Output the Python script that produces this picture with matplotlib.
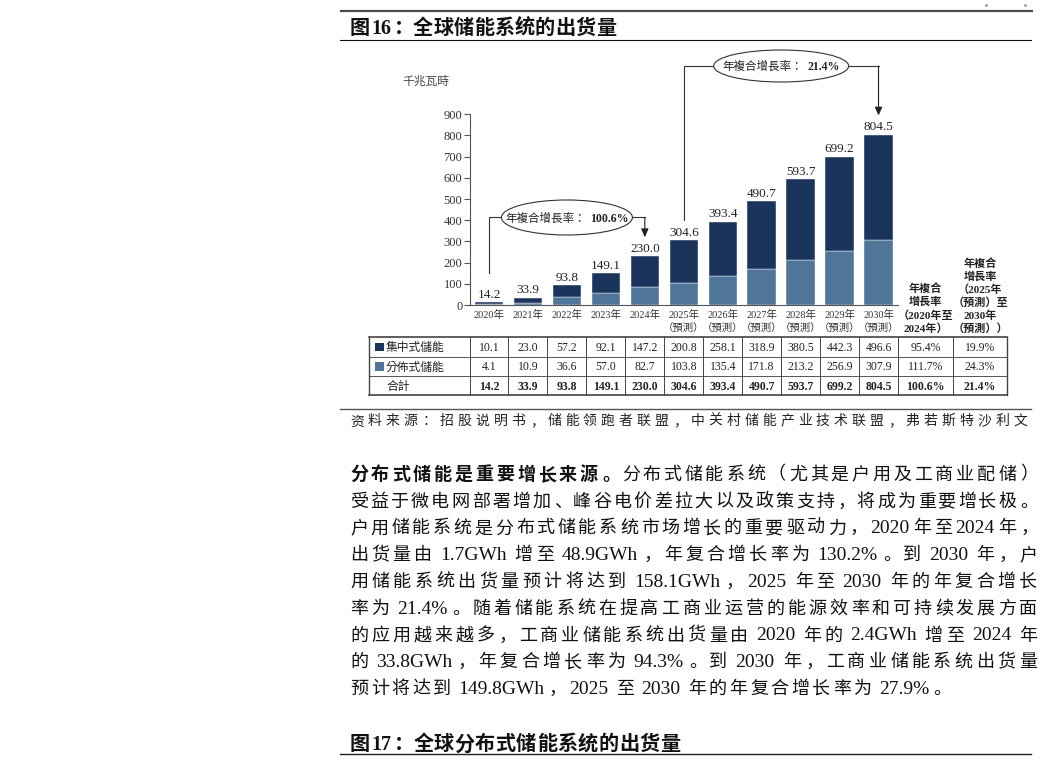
import re
import matplotlib
matplotlib.use('Agg')
import matplotlib.pyplot as plt
from matplotlib.patches import Ellipse, Rectangle

# ---------------- data ----------------
years = ['2020年', '2021年', '2022年', '2023年', '2024年', '2025年',
         '2026年', '2027年', '2028年', '2029年', '2030年']
is_forecast = [False, False, False, False, False, True, True, True, True, True, True]
forecast_tag = '（預測）'
centralized = [10.1, 23.0, 57.2, 92.1, 147.2, 200.8, 258.1, 318.9, 380.5, 442.3, 496.6]
distributed = [4.1, 10.9, 36.6, 57.0, 82.7, 103.8, 135.4, 171.8, 213.2, 256.9, 307.9]
totals = [14.2, 33.9, 93.8, 149.1, 230.0, 304.6, 393.4, 490.7, 593.7, 699.2, 804.5]
row_names = ['集中式儲能', '分佈式儲能', '合計']
cagr_hist = ['95.4%', '111.7%', '100.6%']
cagr_fcst = ['19.9%', '24.3%', '21.4%']
cagr_hist_header = ['年複合', '增長率', '（2020年至', '2024年）']
cagr_fcst_header = ['年複合', '增長率', '（2025年', '（預測）至', '2030年', '（預測））']
ann_label = '年複合增長率：'
ann_hist = (0, 4, '100.6%')
ann_fcst = (5, 10, '21.4%')
y_ticks = [0, 100, 200, 300, 400, 500, 600, 700, 800, 900]
unit_label = '千兆瓦時'
fig_title = '图16：全球储能系统的出货量'
source_text = '资料来源：招股说明书，储能领跑者联盟，中关村储能产业技术联盟，弗若斯特沙利文'
para_lines = [
    [('分布式储能是重要增长来源。', 'bold'), ('分布式储能系统（尤其是户用及工商业配储）', 'normal')],
    [('受益于微电网部署增加、峰谷电价差拉大以及政策支持，将成为重要增长极。', 'normal')],
    [('户用储能系统是分布式储能系统市场增长的重要驱动力，2020年至2024年，', 'normal')],
    [('出货量由 1.7GWh 增至 48.9GWh，年复合增长率为 130.2%。到 2030 年，户', 'normal')],
    [('用储能系统出货量预计将达到 158.1GWh，2025 年至 2030 年的年复合增长', 'normal')],
    [('率为 21.4%。随着储能系统在提高工商业运营的能源效率和可持续发展方面', 'normal')],
    [('的应用越来越多，工商业储能系统出货量由 2020 年的 2.4GWh 增至 2024 年', 'normal')],
    [('的 33.8GWh，年复合增长率为 94.3%。到 2030 年，工商业储能系统出货量', 'normal')],
    [('预计将达到 149.8GWh，2025 至 2030 年的年复合增长率为 27.9%。', 'normal')],
]
next_title = '图17：全球分布式储能系统的出货量'

# ---------------- style ----------------
DARK = '#1b345c'
LIGHT = '#4f7599'
SERIF_SC = ['Liberation Serif', 'Noto Sans CJK SC']
SERIF_TC = ['Liberation Serif', 'Noto Sans CJK TC']
SERIF = ['Liberation Serif']
TC = ['Noto Sans CJK TC']

W, H = 1041, 768
fig = plt.figure(figsize=(W / 100, H / 100), dpi=100)
fig.patch.set_facecolor('white')
page = fig.add_axes([0, 0, 1, 1])
page.set_xlim(0, W)
page.set_ylim(H, 0)
page.axis('off')
renderer = fig.canvas.get_renderer()


def measure(s, **kw):
    t = page.text(0, 0, s, **kw)
    w = t.get_window_extent(renderer).width
    t.remove()
    return w


LEFT_P = set('，。、：；）！？')
RIGHT_P = set('（')


def is_cjk(ch):
    return ord(ch) >= 0x2E80


def layout_line(segments, x0, baseline, size, family, color,
                target=None, extra=0.0, latin_size=None, space=0.22):
    """Place one line token by token (CJK chars / latin words), justified."""
    em = size * 100 / 72
    lsize = latin_size if latin_size else size
    toks = []   # [text, weight, space_after]
    for text, weight in segments:
        for m in re.finditer(r'( +)|([\x21-\x7e]+)|(.)', text):
            if m.group(1):
                if toks:
                    toks[-1][2] = True
            else:
                toks.append([m.group(0), weight, False])
    advs = []
    for tok, weight, sp in toks:
        if len(tok) == 1 and is_cjk(tok):
            a = em
        else:
            a = measure(tok, fontsize=lsize, fontweight=weight, family=family) + 0.1 * em
        if sp:
            a += space * em
        advs.append(a)
    n = len(toks)
    if target is not None and n > 1:
        extra = (target - sum(advs)) / (n - 1)
    xx = x0
    for (tok, weight, sp), adv in zip(toks, advs):
        if len(tok) == 1 and is_cjk(tok):
            fs = size
            if tok in LEFT_P:
                ha, tx = 'left', xx + 0.06 * em
            elif tok in RIGHT_P:
                ha, tx = 'right', xx + 0.94 * em
            else:
                ha, tx = 'center', xx + em / 2
        else:
            fs = lsize
            ha, tx = 'left', xx + 0.05 * em
        page.text(tx, baseline, tok, ha=ha, va='baseline', fontsize=fs,
                  fontweight=weight, family=family, color=color)
        xx += adv + extra
    return extra


# ---------------- page furniture ----------------
page.plot([340, 1033], [11, 11], color='#4a4a4a', lw=1.6, solid_capstyle='butt')
page.plot([986, 1025], [5, 5], ls='none', marker='s', ms=0.8, color='#6d8fc0')
layout_line([(fig_title, 'bold')], 350, 33.5, 14.5, SERIF_SC, '#111', extra=0.2)
page.plot([340, 1031], [39.5, 39.5], color='#111', lw=0.8)
page.text(402, 84.5, unit_label, ha='left', va='baseline', fontsize=8.5,
          family=TC, color='#444')

# ---------------- chart ----------------
AX_L, AX_R, AX_B, AX_T = 470, 898, 305, 114.3
ax = fig.add_axes([AX_L / W, 1 - AX_B / H, (AX_R - AX_L) / W, (AX_B - AX_T) / H])
ax.patch.set_alpha(0)
xs = list(range(len(years)))
ax.set_xlim(-0.488, 10.5)
ax.set_ylim(0, 900)
ax.bar(xs, distributed, width=0.73, color=LIGHT, edgecolor='white', linewidth=0.3, zorder=2)
ax.bar(xs, centralized, width=0.73, bottom=distributed, color=DARK,
       edgecolor='white', linewidth=0.3, zorder=2)
for i, t in enumerate(totals):
    ax.annotate(f'{t:.1f}', (i, t), xytext=(0, 3.2), textcoords='offset points',
                ha='center', va='baseline', fontsize=9.5, family=SERIF, color='#222')
for s in ['top', 'right']:
    ax.spines[s].set_visible(False)
for s in ['left', 'bottom']:
    ax.spines[s].set_color('#555')
    ax.spines[s].set_linewidth(0.8)
ax.set_yticks(y_ticks, [str(v) for v in y_ticks], fontfamily=SERIF,
              fontsize=9, color='#333')
ax.tick_params(axis='y', direction='out', length=4.3, width=0.8, color='#555', pad=1.2)
xt_labels = [y + ('\n' + forecast_tag if f else '') for y, f in zip(years, is_forecast)]
ax.set_xticks(xs, xt_labels, fontfamily=SERIF_TC, fontsize=7.5, color='#333',
              linespacing=1.4)
ax.tick_params(axis='x', length=0, pad=3.3)


def to_page(xd, yd):
    dx, dy = ax.transData.transform((xd, yd))
    return dx, H - dy


# CAGR headers
col_edges = [to_page(i - 0.5, 0)[0] for i in xs] + [to_page(xs[-1] + 0.5, 0)[0]]
c_hist = (col_edges[-1], 953)
c_fcst = (953, 1007)
for k, line in enumerate(cagr_hist_header):
    page.text(sum(c_hist) / 2, 287.7 + 13.3 * k + 4.2, line, ha='center', va='baseline',
              fontsize=8, fontweight='bold', family=SERIF_TC, color='#222')
for k, line in enumerate(cagr_fcst_header):
    page.text(sum(c_fcst) / 2, 262.7 + 13.0 * k + 4.2, line, ha='center', va='baseline',
              fontsize=8, fontweight='bold', family=SERIF_TC, color='#222')


# annotation brackets
def bracket(ann, level, start_gap, ell_w, ell_h):
    i0, i1, val = ann
    x0, top0 = to_page(i0, totals[i0])
    x1, top1 = to_page(i1, totals[i1])
    _, ly = to_page(0, level)
    cx = (x0 + x1) / 2
    page.plot([x0, x0, cx - ell_w / 2], [top0 - start_gap, ly, ly], color='#333', lw=0.8)
    page.plot([cx + ell_w / 2, x1], [ly, ly], color='#333', lw=0.8)
    page.annotate('', xy=(x1, top1 - 19), xytext=(x1, ly),
                  arrowprops=dict(arrowstyle='-|>,head_length=0.5,head_width=0.22',
                                  color='#222', lw=0.8, shrinkA=0, shrinkB=0))
    page.add_patch(Ellipse((cx, ly), ell_w, ell_h, facecolor='white',
                           edgecolor='#333', lw=0.8, zorder=3))
    kw1 = dict(fontsize=8.3, family=TC, color='#222')
    kw2 = dict(fontsize=8.5, fontweight='bold', family=SERIF, color='#222')
    w1 = measure(ann_label, **kw1)
    w2 = measure(val, **kw2)
    gap = 4
    left = cx - (w1 + gap + w2) / 2
    base = ly + 4.2
    page.text(left, base, ann_label, ha='left', va='baseline', zorder=4, **kw1)
    page.text(left + w1 + gap, base, val, ha='left', va='baseline', zorder=4, **kw2)


bracket(ann_hist, 413, 29, 131, 35)
bracket(ann_fcst, 1128, 20.5, 135, 32)

# ---------------- table ----------------
T_L, T_R = 369, 1007
row_y = [337, 357, 376, 395]
edges = [T_L] + col_edges + [953, T_R]
page.plot([T_L, T_R], [row_y[0], row_y[0]], color='#333', lw=1.1)
page.plot([T_L, T_R], [row_y[-1], row_y[-1]], color='#333', lw=1.1)
for yv in row_y[1:-1]:
    page.plot([T_L, T_R], [yv, yv], color='#555', lw=0.7)
for k, ex in enumerate(edges):
    lw = 1.0 if k in (0, len(edges) - 1) else 0.7
    page.plot([ex, ex], [row_y[0], row_y[-1]], color='#444', lw=lw)

table_rows = [centralized, distributed, totals]
cagr_rows = [(cagr_hist[r], cagr_fcst[r]) for r in range(3)]
swatch = [DARK, LIGHT, None]
for r in range(3):
    cy = (row_y[r] + row_y[r + 1]) / 2
    weight = 'bold' if r == 2 else 'normal'
    if swatch[r] is not None:
        page.add_patch(Rectangle((375, cy - 4.5), 8.5, 8.5, facecolor=swatch[r],
                                 edgecolor='none'))
    page.text(386, cy + 4.4, row_names[r], ha='left', va='baseline', fontsize=8.5,
              family=TC, color='#222')
    for i, v in enumerate(table_rows[r]):
        cx = (col_edges[i] + col_edges[i + 1]) / 2
        page.text(cx, cy + 4.0, f'{v:.1f}', ha='center', va='baseline', fontsize=8.5,
                  fontweight=weight, family=SERIF, color='#222')
    page.text(sum(c_hist) / 2, cy + 4.0, cagr_rows[r][0], ha='center', va='baseline',
              fontsize=8.5, fontweight=weight, family=SERIF, color='#222')
    page.text(sum(c_fcst) / 2, cy + 4.0, cagr_rows[r][1], ha='center', va='baseline',
              fontsize=8.5, fontweight=weight, family=SERIF, color='#222')

# ---------------- source & paragraph ----------------
page.plot([340, 1031], [409, 409], color='#555', lw=1.0)
layout_line([(source_text, 'normal')], 350, 425.2, 10, SERIF_SC, '#222', target=677)

for k, segs in enumerate(para_lines):
    base = 479.7 + 26.8 * k
    if k < len(para_lines) - 1:
        layout_line(segs, 350, base, 13, SERIF_SC, '#111', target=687, latin_size=14)
    else:
        layout_line(segs, 350, base, 13, SERIF_SC, '#111', extra=2.6, latin_size=14)

layout_line([(next_title, 'bold')], 350, 750.3, 14.5, SERIF_SC, '#111', extra=0.4,
            latin_size=14.5)
page.plot([340, 1031], [754, 754], color='#222', lw=1.0)

fig.savefig('out.png', dpi=100, facecolor='white')
